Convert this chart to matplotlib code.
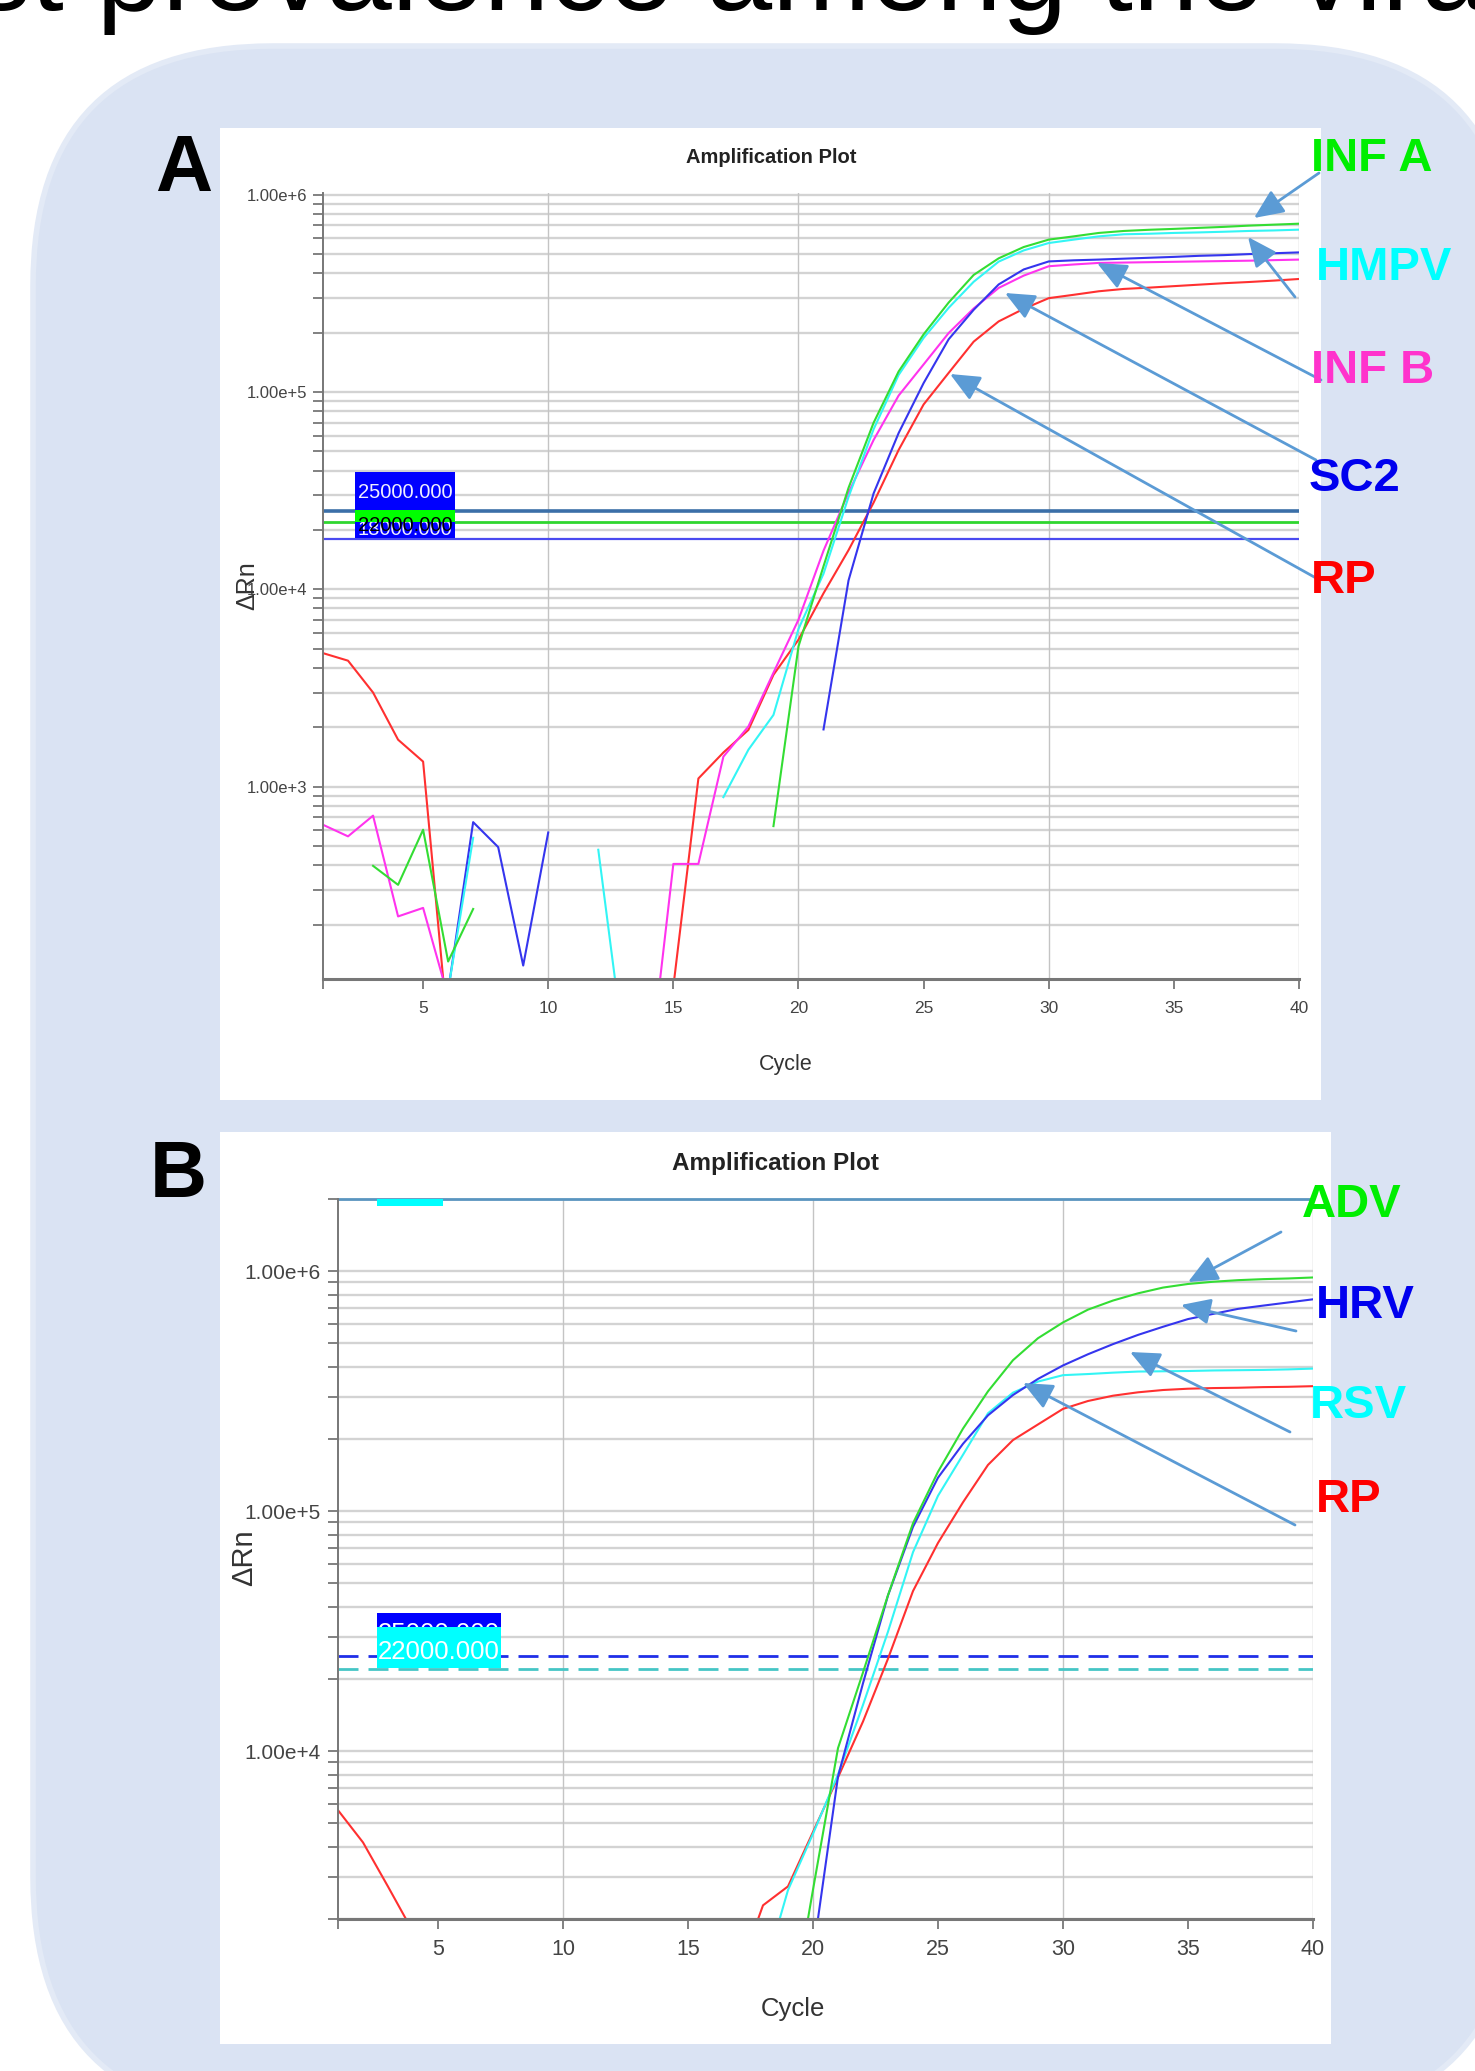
import numpy as np
import matplotlib
matplotlib.use("Agg")
import matplotlib.pyplot as plt
from matplotlib.patches import Rectangle, FancyBboxPatch
from matplotlib.ticker import LogLocator, FuncFormatter, NullFormatter
from matplotlib.transforms import Bbox

nan = np.nan
cycles = np.arange(1, 41)

# ---- panel A data (delta Rn per cycle) ----
inf_a = [nan, nan, 397, 318, 605, 130, 240] + [nan] * 11 + [
    631, 5140, 13100, 32700, 69800, 127000, 196000, 284000, 392000, 476000,
    543000, 592000, 615000, 640000, 655000, 664000, 671000, 679000, 687000,
    697000, 705000, 713000]
hmpv = [nan] * 5 + [93, 551] + [nan] * 4 + [479, 50] + [nan] * 3 + [
    885, 1540, 2310, 6300, 12000, 29400, 64700, 122000, 188000, 267000,
    362000, 458000, 522000, 569000, 592000, 615000, 630000, 634000, 640000,
    644000, 649000, 655000, 659000, 665000]
inf_b = [641, 560, 713, 220, 243, 86] + [nan] * 7 + [
    32, 406, 406, 1420, 2020, 3780, 7020, 15700, 30900, 57100, 95900, 138000,
    199000, 265000, 337000, 389000, 434000, 443000, 451000, 453000, 455000,
    457000, 459000, 461000, 463000, 466000, 469000]
sc2 = [nan] * 5 + [92, 661, 494, 124, 586] + [nan] * 10 + [
    1950, 11100, 30600, 61900, 111000, 185000, 261000, 351000, 418000, 459000,
    465000, 469000, 474000, 479000, 484000, 490000, 494000, 500000, 505000,
    510000]
rp_a = [4750, 4350, 3000, 1730, 1340, 57] + [nan] * 8 + [
    97, 1100, 1490, 1940, 3690, 5560, 9550, 15800, 27500, 50800, 86500,
    125000, 180000, 228000, 264000, 299000, 311000, 324000, 333000, 338000,
    344000, 350000, 356000, 361000, 367000, 374000]
thr_a = [25000, 22000, 18000]

# ---- panel B data ----
adv = [nan] * 18 + [
    660, 2650, 10300, 21300, 44700, 89100, 146000, 221000, 316000, 426000,
    526000, 612000, 692000, 755000, 809000, 855000, 885000, 904000, 918000,
    927000, 933000, 942000]
hrv = [nan] * 19 + [
    1430, 7840, 19200, 44600, 86100, 138000, 191000, 251000, 305000, 356000,
    405000, 451000, 497000, 543000, 587000, 632000, 664000, 697000, 719000,
    741000, 764000]
rsv = [nan] * 17 + [
    1150, 2640, 4530, 8000, 15600, 31500, 67500, 116000, 172000, 256000,
    312000, 347000, 369000, 373000, 378000, 382000, 383000, 384000, 386000,
    387000, 388000, 390000, 393000]
rp_b = [5680, 4170, 2730, 1770] + [nan] * 12 + [
    1170, 2280, 2735, 4610, 7780, 13300, 24300, 46500, 73800, 109000, 156000,
    198000, 230000, 267000, 288000, 303000, 313000, 320000, 324000, 326000,
    327000, 329000, 330000, 332000]
thr_b = [25000, 22000]

x_ticks = [1, 5, 10, 15, 20, 25, 30, 35, 40]
x_ticklabels = [""] + [str(t) for t in x_ticks[1:]]

GREEN, CYAN, PINK, BLUE, RED = "#33dd33", "#33f5f5", "#ff33ee", "#3535ee", "#ff3030"
ARROW = "#5b9bd5"
plt.rcParams["font.family"] = ["Liberation Sans", "DejaVu Sans"]

W, H = 1475, 2071
fig = plt.figure(figsize=(W / 100, H / 100), dpi=100)


def rect(x0, y0, x1, y1):
    # pixel box (y from top) -> figure fraction
    return [x0 / W, 1 - y1 / H, (x1 - x0) / W, (y1 - y0) / H]


def pixbox(x0, y0, x1, y1):
    # pixel box (y from top) -> display bbox for clipping
    return Bbox.from_extents(x0, H - y1, x1, H - y0)


def sci(v, pos):
    m, e = f"{v:.2e}".split("e")
    return f"{m}e+{int(e)}"


def style(ax, ylim, yfs, xfs, ypad, xpad):
    ax.set_yscale("log")
    ax.set_xlim(1, 40)
    ax.set_ylim(*ylim)
    ax.yaxis.set_major_locator(LogLocator(base=10))
    ax.yaxis.set_minor_locator(LogLocator(base=10, subs=np.arange(2, 10)))
    ax.yaxis.set_major_formatter(FuncFormatter(sci))
    ax.yaxis.set_minor_formatter(NullFormatter())
    ax.set_axisbelow(True)
    ax.grid(which="both", axis="y", color="#d3d3d3", lw=1.7)
    for c in [10, 20, 30, 40]:
        ax.axvline(c, color="#c4c4c4", lw=1.0, zorder=0.6)
    ax.set_xticks(x_ticks)
    ax.set_xticklabels(x_ticklabels)
    for s in ["top", "right"]:
        ax.spines[s].set_visible(False)
    ax.spines["left"].set_color("#777777")
    ax.spines["left"].set_linewidth(1.4)
    ax.spines["bottom"].set_color("#777777")
    ax.spines["bottom"].set_linewidth(2.2)
    ax.tick_params(axis="y", which="both", direction="out", length=7.5, width=1.3,
                   color="#777777", labelsize=yfs, labelcolor="#444444", pad=ypad)
    ax.tick_params(axis="x", direction="out", length=7, width=1.3,
                   color="#777777", labelsize=xfs, labelcolor="#444444", pad=xpad)


# background layer: rounded blue card and white panels
bg = fig.add_axes([0, 0, 1, 1], zorder=-1)
bg.set_xlim(0, W)
bg.set_ylim(H, 0)
bg.axis("off")
bg.add_patch(FancyBboxPatch((33, 46), 1515 - 33, 2117 - 46,
                            boxstyle="round,pad=0,rounding_size=240",
                            facecolor="#dae3f3", edgecolor="#e3eaf6", lw=4))
bg.add_patch(Rectangle((220, 128), 1101, 972, facecolor="white", lw=0))
bg.add_patch(Rectangle((220, 1132), 1111, 912, facecolor="white", lw=0))

# ---- panel A ----
ax_a = fig.add_axes(rect(323, 193, 1299, 979))
style(ax_a, (106, 1.02e6), 12, 12.5, 4, 8.5)
ax_a.axhline(thr_a[0], color="#3b6fa8", lw=2.6)
ax_a.axhline(thr_a[1], color="#2fd62f", lw=2.0)
ax_a.axhline(thr_a[2], color="#4a4af0", lw=1.6)
for vals, col in [(rp_a, RED), (inf_b, PINK), (sc2, BLUE), (hmpv, CYAN), (inf_a, GREEN)]:
    ax_a.plot(cycles, np.array(vals, float), color=col, lw=1.5)

# ---- panel B ----
ax_b = fig.add_axes(rect(338, 1199, 1313, 1919))
style(ax_b, (2000, 2e6), 15, 15.5, 5, 7.5)
ax_b.axhline(thr_b[0], color="#1f2fe8", lw=2.0, dashes=(7.2, 3.6))
ax_b.axhline(thr_b[1], color="#45c5c5", lw=2.0, dashes=(7.2, 3.6))
ax_b.axhline(2e6, color="#5a95c0", lw=2.0, clip_on=False)
for vals, col in [(rp_b, RED), (rsv, CYAN), (hrv, BLUE), (adv, GREEN)]:
    ax_b.plot(cycles, np.array(vals, float), color=col, lw=1.5)

# overlay layer in pixel coordinates
ov = fig.add_axes([0, 0, 1, 1], zorder=5)
ov.set_xlim(0, W)
ov.set_ylim(H, 0)
ov.axis("off")
ov.patch.set_alpha(0)

ov.text(-28, 10, "st prevalence among the vira", fontsize=85,
        va="baseline", ha="left", color="black")

ov.text(184, 191, "A", fontsize=57, fontweight="bold", ha="center", va="baseline")
ov.text(178, 1197, "B", fontsize=57, fontweight="bold", ha="center", va="baseline")

ov.text(771, 163, "Amplification Plot", fontsize=14.5, fontweight="bold",
        color="#222222", ha="center", va="baseline")
ov.text(775, 1170, "Amplification Plot", fontsize=17.5, fontweight="bold",
        color="#222222", ha="center", va="baseline")
ov.text(786, 1070, "Cycle", fontsize=15.5, color="#333333", ha="center", va="baseline")
ov.text(793, 2016, "Cycle", fontsize=18.5, color="#333333", ha="center", va="baseline")
ov.text(247, 586, "ΔRn", fontsize=18, color="#333333",
        rotation=90, ha="center", va="center")
ov.text(244, 1558, "ΔRn", fontsize=21, color="#333333",
        rotation=90, ha="center", va="center")

# threshold labels panel A
ov.add_patch(Rectangle((355, 472), 100, 66, facecolor="#0000ff", lw=0, zorder=2))
ov.text(405, 498, "25000.000", fontsize=14.5, color="#eeeeff", ha="center",
        va="baseline", zorder=3)
t18 = ov.text(405, 535, "18000.000", fontsize=14.5, color="#eeeeff", ha="center",
              va="baseline", zorder=3)
t18.set_clip_box(pixbox(355, 472, 455, 538))
ov.add_patch(Rectangle((355, 510), 100, 12, facecolor="#00ff00", lw=0, zorder=3.5))
t22 = ov.text(405, 531, "22000.000", fontsize=14.5, color="black", ha="center",
              va="baseline", zorder=4)
t22.set_clip_box(pixbox(355, 510, 455, 522))

# threshold labels panel B
ov.add_patch(Rectangle((377, 1613), 124, 53, facecolor="#0000ff", lw=0, zorder=2))
t25 = ov.text(439, 1641, "25000.000", fontsize=18.5, color="white", ha="center",
              va="baseline", zorder=3)
t25.set_clip_box(pixbox(377, 1613, 501, 1627))
ov.add_patch(Rectangle((377, 1627), 124, 41, facecolor="#00ffff", lw=0, zorder=3.5))
ov.text(439, 1659, "22000.000", fontsize=18.5, color="white", ha="center",
        va="baseline", zorder=4)
ov.add_patch(Rectangle((377, 1199), 66, 7, facecolor="#00ffff", lw=0))

# target labels with arrows
labels_a = [("INF A", "#00ee00", 1311, 154, (1319, 173), (1254, 218)),
            ("HMPV", "#00ffff", 1316, 263, (1295, 297), (1248, 237)),
            ("INF B", "#ff33cc", 1311, 366, (1321, 380), (1097, 263)),
            ("SC2", "#0000ee", 1309, 474, (1316, 460), (1005, 293)),
            ("RP", "#ff0000", 1311, 576, (1316, 578), (950, 374))]
labels_b = [("ADV", "#00ee00", 1302, 1200, (1281, 1232), (1188, 1282)),
            ("HRV", "#0000ee", 1316, 1301, (1296, 1331), (1181, 1305)),
            ("RSV", "#00ffff", 1310, 1401, (1290, 1432), (1130, 1352)),
            ("RP", "#ff0000", 1316, 1495, (1295, 1525), (1023, 1383))]
for name, col, lx, ly, tail, tip in labels_a + labels_b:
    ov.annotate("", xy=tip, xytext=tail,
                arrowprops=dict(arrowstyle="-|>,head_length=0.45,head_width=0.2",
                                color=ARROW, lw=2.0, mutation_scale=40,
                                shrinkA=0, shrinkB=0))
    ov.text(lx, ly + 17, name, fontsize=34, fontweight="bold",
            color=col, ha="left", va="baseline")

fig.savefig("out.png", dpi=100)
